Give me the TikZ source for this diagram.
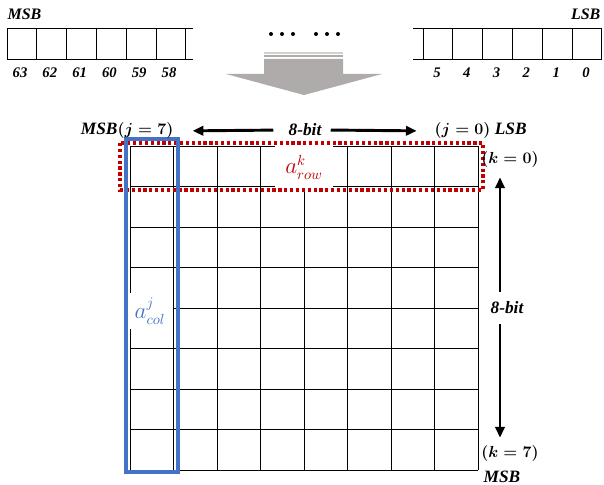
\documentclass[tikz,border=0pt]{standalone}
\usepackage{fontspec}
\setmainfont{Liberation Serif}
\usepackage{amsmath}
\usepackage{tikz}
\usetikzlibrary{arrows.meta}
\usepackage{xcolor}
\definecolor{rowred}{RGB}{192,0,0}
\definecolor{colblue}{RGB}{68,114,196}
\definecolor{arrowgrey}{RGB}{174,171,170}

\begin{document}
\begin{tikzpicture}[x=0.75pt,y=-0.75pt,
	lbl/.style={font=\fontsize{13}{15}\selectfont\bfseries\itshape},
	regnum/.style={font=\fontsize{11}{13}\selectfont\bfseries\itshape},
	bitarrow/.style={line width=2.2pt,-{Triangle[length=8pt,width=7pt]}}]
	\useasboundingbox (0,0) rectangle (604,485);
	\newcommand{\cellw}{43.5}
	\newcommand{\cellh}{40.5}
	\newcommand{\regw}{29.8}
	% 64-bit register, high end
	\foreach \i/\bit in {0/63,1/62,2/61,3/60,4/59,5/58}
	{
		\draw [line width=0.75pt] (7+\regw*\i,29) rectangle (7+\regw*\i+\regw,60);
		\node [regnum] (hi\bit) at (20+\regw*\i,73) {\bit};
	}
	\draw [line width=0.75pt] (185.8,29) -- (193,29) (185.8,60) -- (193,60);
	\node [font=\fontsize{12}{14}\selectfont\bfseries\itshape, anchor=west, inner sep=1pt] (msbtop) at (6,14) {MSB};
	% 64-bit register, low end
	\foreach \i/\bit in {0/5,1/4,2/3,3/2,4/1,5/0}
	{
		\draw [line width=0.75pt] (423+\regw*\i,29) rectangle (423+\regw*\i+\regw,60);
		\node [regnum] (lo\bit) at (437+\regw*\i,73) {\bit};
	}
	\draw [line width=0.75pt] (413,29) -- (423,29) (413,60) -- (423,60);
	\node [font=\fontsize{12}{14}\selectfont\bfseries\itshape, anchor=east, inner sep=1pt] (lsbtop) at (602,14) {LSB};
	% skipped bits
	\foreach \x in {271,282,293,316,327,338}
		\fill (\x,34) circle (1.5pt);
	% grey arrow
	\fill [arrowgrey!55] (264,52.5) rectangle (343,54);
	\fill [arrowgrey] (264,55.3) rectangle (343,57.3);
	\fill [arrowgrey] (264,59) -- (343,59) -- (343,74) -- (382,74) -- (304,95) -- (226,74) -- (264,74) -- cycle;
	% 8x8 grid
	\foreach \c in {0,...,8}
		\draw [line width=0.7pt] (130+\cellw*\c,146) -- (130+\cellw*\c,470);
	\foreach \r in {0,...,8}
		\draw [line width=0.7pt] (130,146+\cellh*\r) -- (478,146+\cellh*\r);
	\node [fill=white, minimum width=43pt, minimum height=31pt, text=rowred, font=\fontsize{16}{18}\selectfont] (arow) at (304,167) {$a_{row}^{k}$};
	\node [fill=white, minimum width=34pt, minimum height=24pt, text=colblue, font=\fontsize{16}{18}\selectfont] (acol) at (150,311) {$a_{col}^{j}$};
	\draw [rowred, line width=2.3pt, dash pattern=on 2.4pt off 2pt] (120,143) rectangle (483,190);
	\draw [colblue, line width=2.3pt] (126,139) rectangle (178,472);
	% column direction
	\node [lbl] (bitj) at (305,130) {8-bit};
	\node [lbl, anchor=east] (msbj) at (178,131) {MSB{\boldmath$(j=7)$}};
	\node [lbl, anchor=west] (lsbj) at (430,131) {{\boldmath$(j=0)$} LSB};
	\draw [bitarrow, shorten <=8pt, shorten >=11pt] (bitj.west) -- (msbj.east);
	\draw [bitarrow, shorten <=3.5pt, shorten >=10pt] (bitj.east) -- (lsbj.west);
	% row direction
	\coordinate (kaxis) at (500,0);
	\node [lbl] (bitk) at (507,308) {8-bit};
	\node [lbl] (k0) at (510,160) {{\boldmath$(k=0)$}};
	\node [lbl] (k7) at (510,453) {{\boldmath$(k=7)$}};
	\node [lbl, inner sep=1pt] (msbk) at (502,477) {MSB};
	\draw [bitarrow, shorten <=4pt, shorten >=3.5pt] (bitk.north -| kaxis) -- (k0.south -| kaxis);
	\draw [bitarrow, shorten <=4pt, shorten >=2pt] (bitk.south -| kaxis) -- (k7.north -| kaxis);
\end{tikzpicture}
\end{document}
